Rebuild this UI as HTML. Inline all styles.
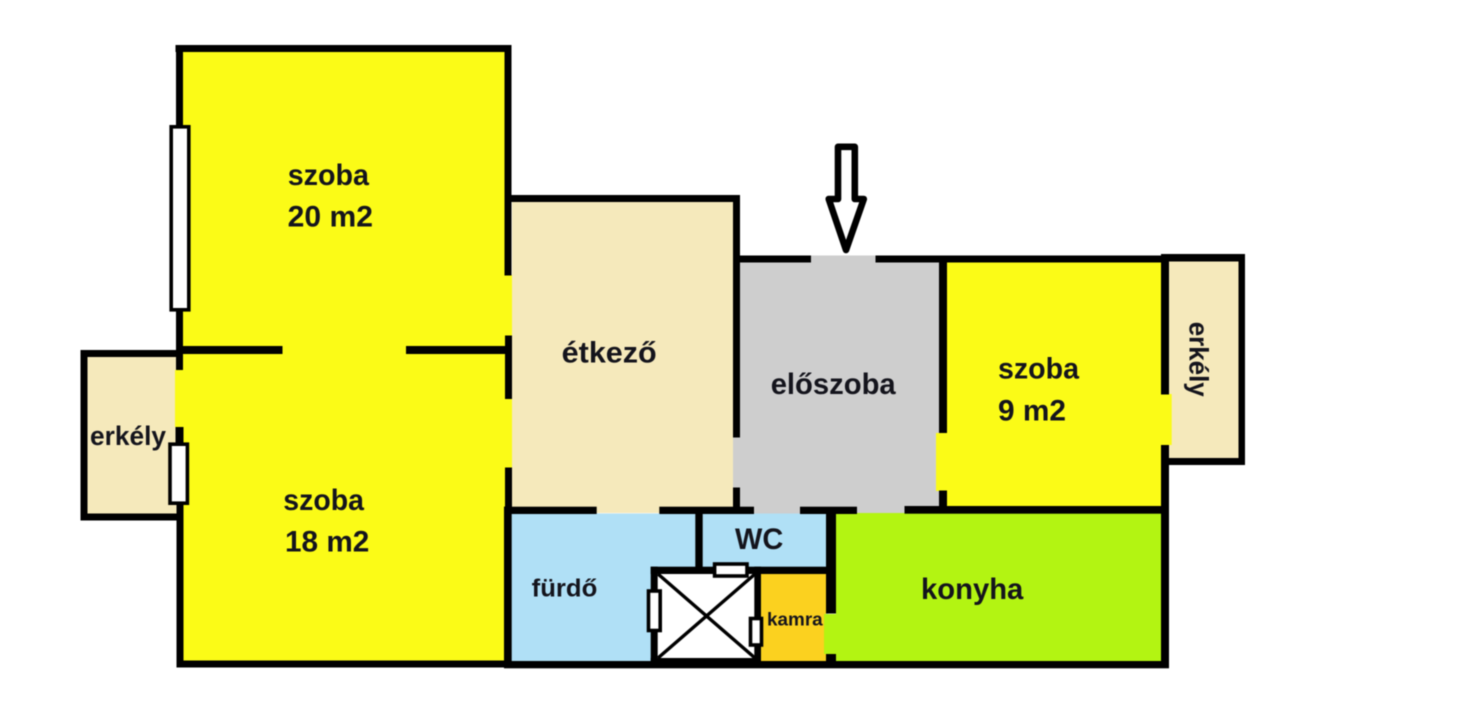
<!DOCTYPE html>
<html>
<head>
<meta charset="utf-8">
<style>
html,body{margin:0;padding:0;background:#fff;width:1472px;height:720px;overflow:hidden}
svg{display:block;filter:blur(0.4px)}
text{font-family:"Liberation Sans",sans-serif;font-weight:bold;fill:#14141c;font-size:29.5px;stroke:none}
</style>
</head>
<body>
<svg width="1472" height="720" viewBox="0 0 1472 720" xmlns="http://www.w3.org/2000/svg">
<rect width="1472" height="720" fill="#fff"/>
<!-- fills -->
<rect x="84" y="353" width="95" height="164" fill="#f5e9bb"/>
<rect x="1165" y="258" width="77" height="203" fill="#f5e9bb"/>
<rect x="512" y="199" width="221" height="314" fill="#f5e9bb"/>
<rect x="733" y="259" width="210" height="248" fill="#cecece"/>
<rect x="811" y="255.5" width="65" height="10" fill="#cecece"/>
<rect x="754" y="500" width="46" height="13.5" fill="#cecece"/>
<rect x="857" y="500" width="48" height="13.5" fill="#cecece"/>
<rect x="179" y="49" width="329" height="615" fill="#fbfb17"/>
<rect x="175" y="370" width="10" height="57" fill="#fbfb17"/>
<rect x="504" y="275" width="8" height="61" fill="#fbfb17"/>
<rect x="504" y="399" width="8" height="69" fill="#fbfb17"/>
<rect x="943" y="259" width="222" height="250" fill="#fbfb17"/>
<rect x="936" y="433" width="12" height="58" fill="#fbfb17"/>
<rect x="1160" y="394" width="11.7" height="51" fill="#fbfb17"/>
<rect x="508" y="513.5" width="320" height="150" fill="#b0e0f6"/>
<rect x="758" y="572" width="68" height="92" fill="#fbd11f"/>
<rect x="836" y="513" width="328" height="151" fill="#b3f412"/>
<rect x="824" y="614" width="14" height="40" fill="#b3f412"/>
<rect x="654" y="570" width="104" height="92" fill="#fff"/>
<!-- walls -->
<g fill="#000">
<!-- upper room -->
<rect x="175.5" y="45" width="336" height="7"/>
<rect x="176" y="45" width="7" height="325"/>
<rect x="504.5" y="45" width="7" height="230.5"/>
<rect x="176.5" y="346" width="106" height="8"/>
<rect x="406" y="346" width="102" height="8"/>
<rect x="505" y="335.5" width="7" height="63.5"/>
<!-- lower room -->
<rect x="175.5" y="427" width="8" height="24"/>
<rect x="176.5" y="500" width="7" height="167.5"/>
<rect x="176.5" y="660.5" width="334" height="7"/>
<rect x="505" y="467.5" width="7" height="45"/>
<rect x="504" y="506.7" width="7.7" height="161.3"/>
<!-- left balcony -->
<rect x="80.5" y="350" width="98" height="7"/>
<rect x="80.5" y="350" width="7" height="170.5"/>
<rect x="80.5" y="513.5" width="98" height="7"/>
<!-- dining -->
<rect x="504.5" y="195" width="235" height="7"/>
<rect x="733" y="195" width="7" height="242.5"/>
<rect x="733" y="487.5" width="7" height="22"/>
<!-- hall top -->
<rect x="733" y="255.5" width="78" height="7"/>
<rect x="875.5" y="255.5" width="290" height="7"/>
<!-- hall right -->
<rect x="939" y="255.5" width="8" height="177.5"/>
<rect x="939" y="490.5" width="8" height="18"/>
<!-- small room right -->
<rect x="1161" y="254" width="8" height="140.5"/>
<rect x="1161" y="445" width="8" height="223"/>
<!-- right balcony -->
<rect x="1161" y="254" width="84" height="7.5"/>
<rect x="1238.5" y="254" width="6.5" height="211"/>
<rect x="1161" y="458" width="84" height="7"/>
<!-- horizontal wall above bath -->
<rect x="504" y="506.7" width="92.7" height="7.3"/>
<rect x="659.3" y="506.7" width="94.7" height="7.3"/>
<rect x="800" y="506.7" width="57" height="7.3"/>
<rect x="904.5" y="506" width="264" height="7.7"/>
<!-- bottom -->
<rect x="504" y="661" width="665" height="7.3"/>
<!-- WC -->
<rect x="695.3" y="510" width="7.4" height="60"/>
<rect x="826" y="507" width="10" height="106.5"/>
<rect x="826" y="654" width="10" height="12"/>
<!-- shaft -->
<rect x="650.7" y="566.7" width="175.3" height="7.3"/>
<rect x="650.7" y="566.7" width="7" height="100"/>
<rect x="754.3" y="566.7" width="6.7" height="100"/>
<rect x="650.7" y="658" width="110" height="8"/>
</g>
<!-- shaft X -->
<line x1="658" y1="574" x2="755" y2="658" stroke="#000" stroke-width="3.4"/>
<line x1="755" y1="574" x2="658" y2="658" stroke="#000" stroke-width="3.4"/>
<!-- windows -->
<g fill="#fff" stroke="#000" stroke-width="3.6">
<rect x="171.2" y="126.8" width="17.6" height="183"/>
<rect x="170" y="444.2" width="17.4" height="59"/>
<rect x="714.6" y="564" width="32.4" height="12"/>
<rect x="648.5" y="591" width="11.7" height="39.5"/>
<rect x="750.5" y="618.5" width="11" height="26.5"/>
</g>
<!-- arrow -->
<path d="M838 146.8H854.8V199H863.8L846 250L828.7 199H838Z" fill="#fff" stroke="#000" stroke-width="6.6" stroke-linejoin="round"/>
<!-- labels -->
<text x="287.7" y="185" textLength="81.3" lengthAdjust="spacingAndGlyphs">szoba</text>
<text x="287.7" y="226.7" textLength="85.3" lengthAdjust="spacingAndGlyphs">20 m2</text>
<text x="283.3" y="510" textLength="80.7" lengthAdjust="spacingAndGlyphs">szoba</text>
<text x="285" y="551.7" textLength="84.3" lengthAdjust="spacingAndGlyphs">18 m2</text>
<text x="90" y="445" textLength="76" lengthAdjust="spacingAndGlyphs" style="font-size:27px">erkély</text>
<text x="561.7" y="362.7" textLength="95" lengthAdjust="spacingAndGlyphs">étkező</text>
<text x="770.7" y="394" textLength="125" lengthAdjust="spacingAndGlyphs">előszoba</text>
<text x="998" y="378.3" textLength="81" lengthAdjust="spacingAndGlyphs">szoba</text>
<text x="998" y="420.7" textLength="68" lengthAdjust="spacingAndGlyphs">9 m2</text>
<text transform="translate(1189.5,321.7) rotate(90)" textLength="75" lengthAdjust="spacingAndGlyphs" style="font-size:27px">erkély</text>
<text x="735" y="549" textLength="48.3" lengthAdjust="spacingAndGlyphs">WC</text>
<text x="531.7" y="596.7" textLength="65.6" lengthAdjust="spacingAndGlyphs" style="font-size:25px">fürdő</text>
<text x="767" y="625.3" textLength="55.7" lengthAdjust="spacingAndGlyphs" style="font-size:18.5px">kamra</text>
<text x="921" y="599" textLength="102.3" lengthAdjust="spacingAndGlyphs">konyha</text>
</svg>
</body>
</html>
